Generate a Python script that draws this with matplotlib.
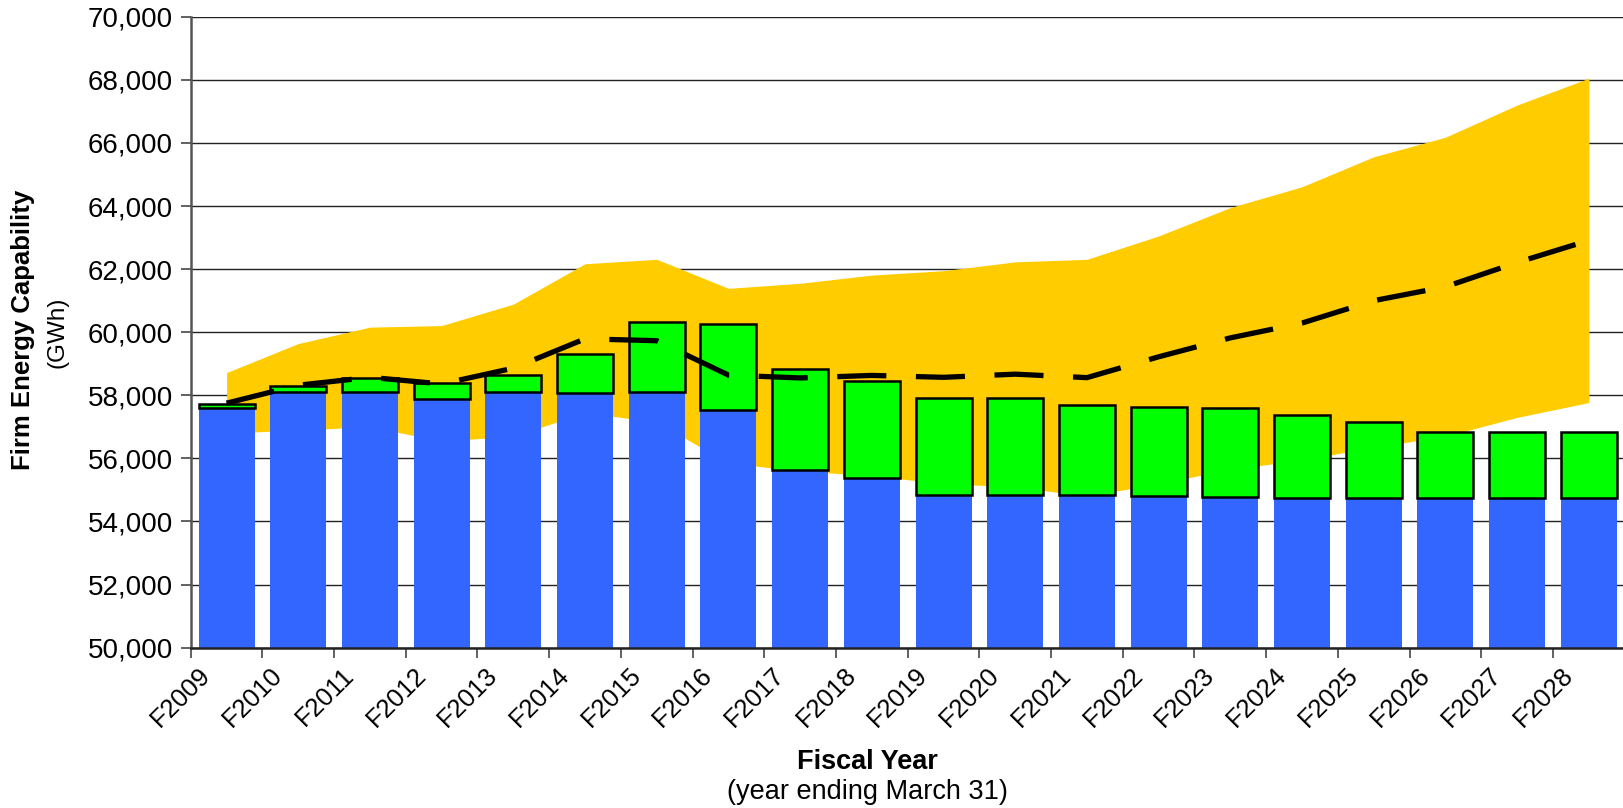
import matplotlib
matplotlib.use('Agg')
import matplotlib.pyplot as plt
from matplotlib.ticker import FuncFormatter, FixedLocator
from matplotlib.transforms import ScaledTranslation

plt.rcParams['font.family'] = ['Liberation Sans', 'DejaVu Sans']

# Data (GWh)
years = ['F2009', 'F2010', 'F2011', 'F2012', 'F2013', 'F2014', 'F2015', 'F2016', 'F2017', 'F2018',
         'F2019', 'F2020', 'F2021', 'F2022', 'F2023', 'F2024', 'F2025', 'F2026', 'F2027', 'F2028']
existing = [57600, 58100, 58120, 57890, 58120, 58070, 58120, 57540, 55630, 55390,
            54840, 54840, 54840, 54800, 54780, 54750, 54750, 54750, 54750, 54750]
total = [57710, 58300, 58550, 58400, 58650, 59310, 60310, 60260, 58820, 58450,
         57900, 57900, 57690, 57640, 57610, 57380, 57140, 56850, 56850, 56850]
band_low = [56800, 56900, 57000, 56550, 56700, 57450, 57150, 55850, 55600, 55450,
            55200, 55100, 54800, 55200, 55650, 55950, 56350, 56700, 57300, 57770]
band_high = [58720, 59640, 60160, 60210, 60890, 62170, 62310, 61390, 61550, 61810,
             61950, 62230, 62310, 63050, 63950, 64610, 65560, 66180, 67200, 68050]
load_mid = [57750, 58320, 58570, 58360, 58860, 59790, 59730, 58640, 58550, 58630,
            58570, 58670, 58560, 59220, 59820, 60290, 61000, 61440, 62210, 62910]

x = list(range(len(years)))
added = [t - e for t, e in zip(total, existing)]

fig = plt.figure(figsize=(16.23, 8.08), dpi=100)
ax = fig.add_axes([190.7 / 1623, 1 - 647.7 / 808, 1434 / 1623, 631 / 808])

ax.fill_between(x, band_low, band_high, color='#FFCC00', linewidth=0, zorder=1)
ax.bar(x, existing, width=0.78, color='#3366FF', linewidth=0, zorder=2)
ax.bar(x, added, width=0.78, bottom=existing, color='#00FF00',
       edgecolor='black', linewidth=1.8, zorder=2)
ax.plot(x, load_mid, color='black', linewidth=3.8, dashes=(9.3, 5.6),
        dash_capstyle='butt', zorder=3)

ax.set_xlim(-0.5, len(years) - 0.5)
ax.set_ylim(50000, 70000)
ax.set_yticks(range(50000, 70001, 2000))
ax.yaxis.set_major_formatter(FuncFormatter(lambda v, p: f'{int(v):,}'))
ax.yaxis.grid(True, color='#222222', linewidth=1.0, zorder=0)
ax.set_axisbelow(True)

ax.set_xticks(x)
ax.set_xticklabels(years, rotation=45, ha='right', va='top')
ax.xaxis.set_minor_locator(FixedLocator([i - 0.5 for i in range(len(years) + 1)]))
ax.tick_params(axis='x', which='major', length=0, pad=11, labelsize=18.5)
ax.tick_params(axis='x', which='minor', length=7, width=1.3, color='#555555')
ax.tick_params(axis='y', length=7, width=1.3, color='#555555', pad=6, labelsize=20)
for lab in ax.get_xticklabels():
    lab.set_transform(lab.get_transform() + ScaledTranslation(-0.11, 0, fig.dpi_scale_trans))

for s in ['top', 'right']:
    ax.spines[s].set_visible(False)
ax.spines['left'].set_color('#555555')
ax.spines['left'].set_linewidth(1.8)
ax.spines['bottom'].set_color('#222222')
ax.spines['bottom'].set_linewidth(1.8)

fig.text(23 / 1623, 1 - 330 / 808, 'Firm Energy Capability', rotation=90,
         ha='center', va='center', fontsize=18.5, fontweight='bold')
fig.text(58 / 1623, 1 - 332 / 808, '(GWh)', rotation=90,
         ha='center', va='center', fontsize=17.5)
fig.text(867 / 1623, 1 - 769 / 808, 'Fiscal Year', ha='center', va='baseline',
         fontsize=19.5, fontweight='bold')
fig.text(867 / 1623, 1 - 799 / 808, '(year ending March 31)', ha='center', va='baseline',
         fontsize=19.5)

fig.savefig('out.png', dpi=100)
